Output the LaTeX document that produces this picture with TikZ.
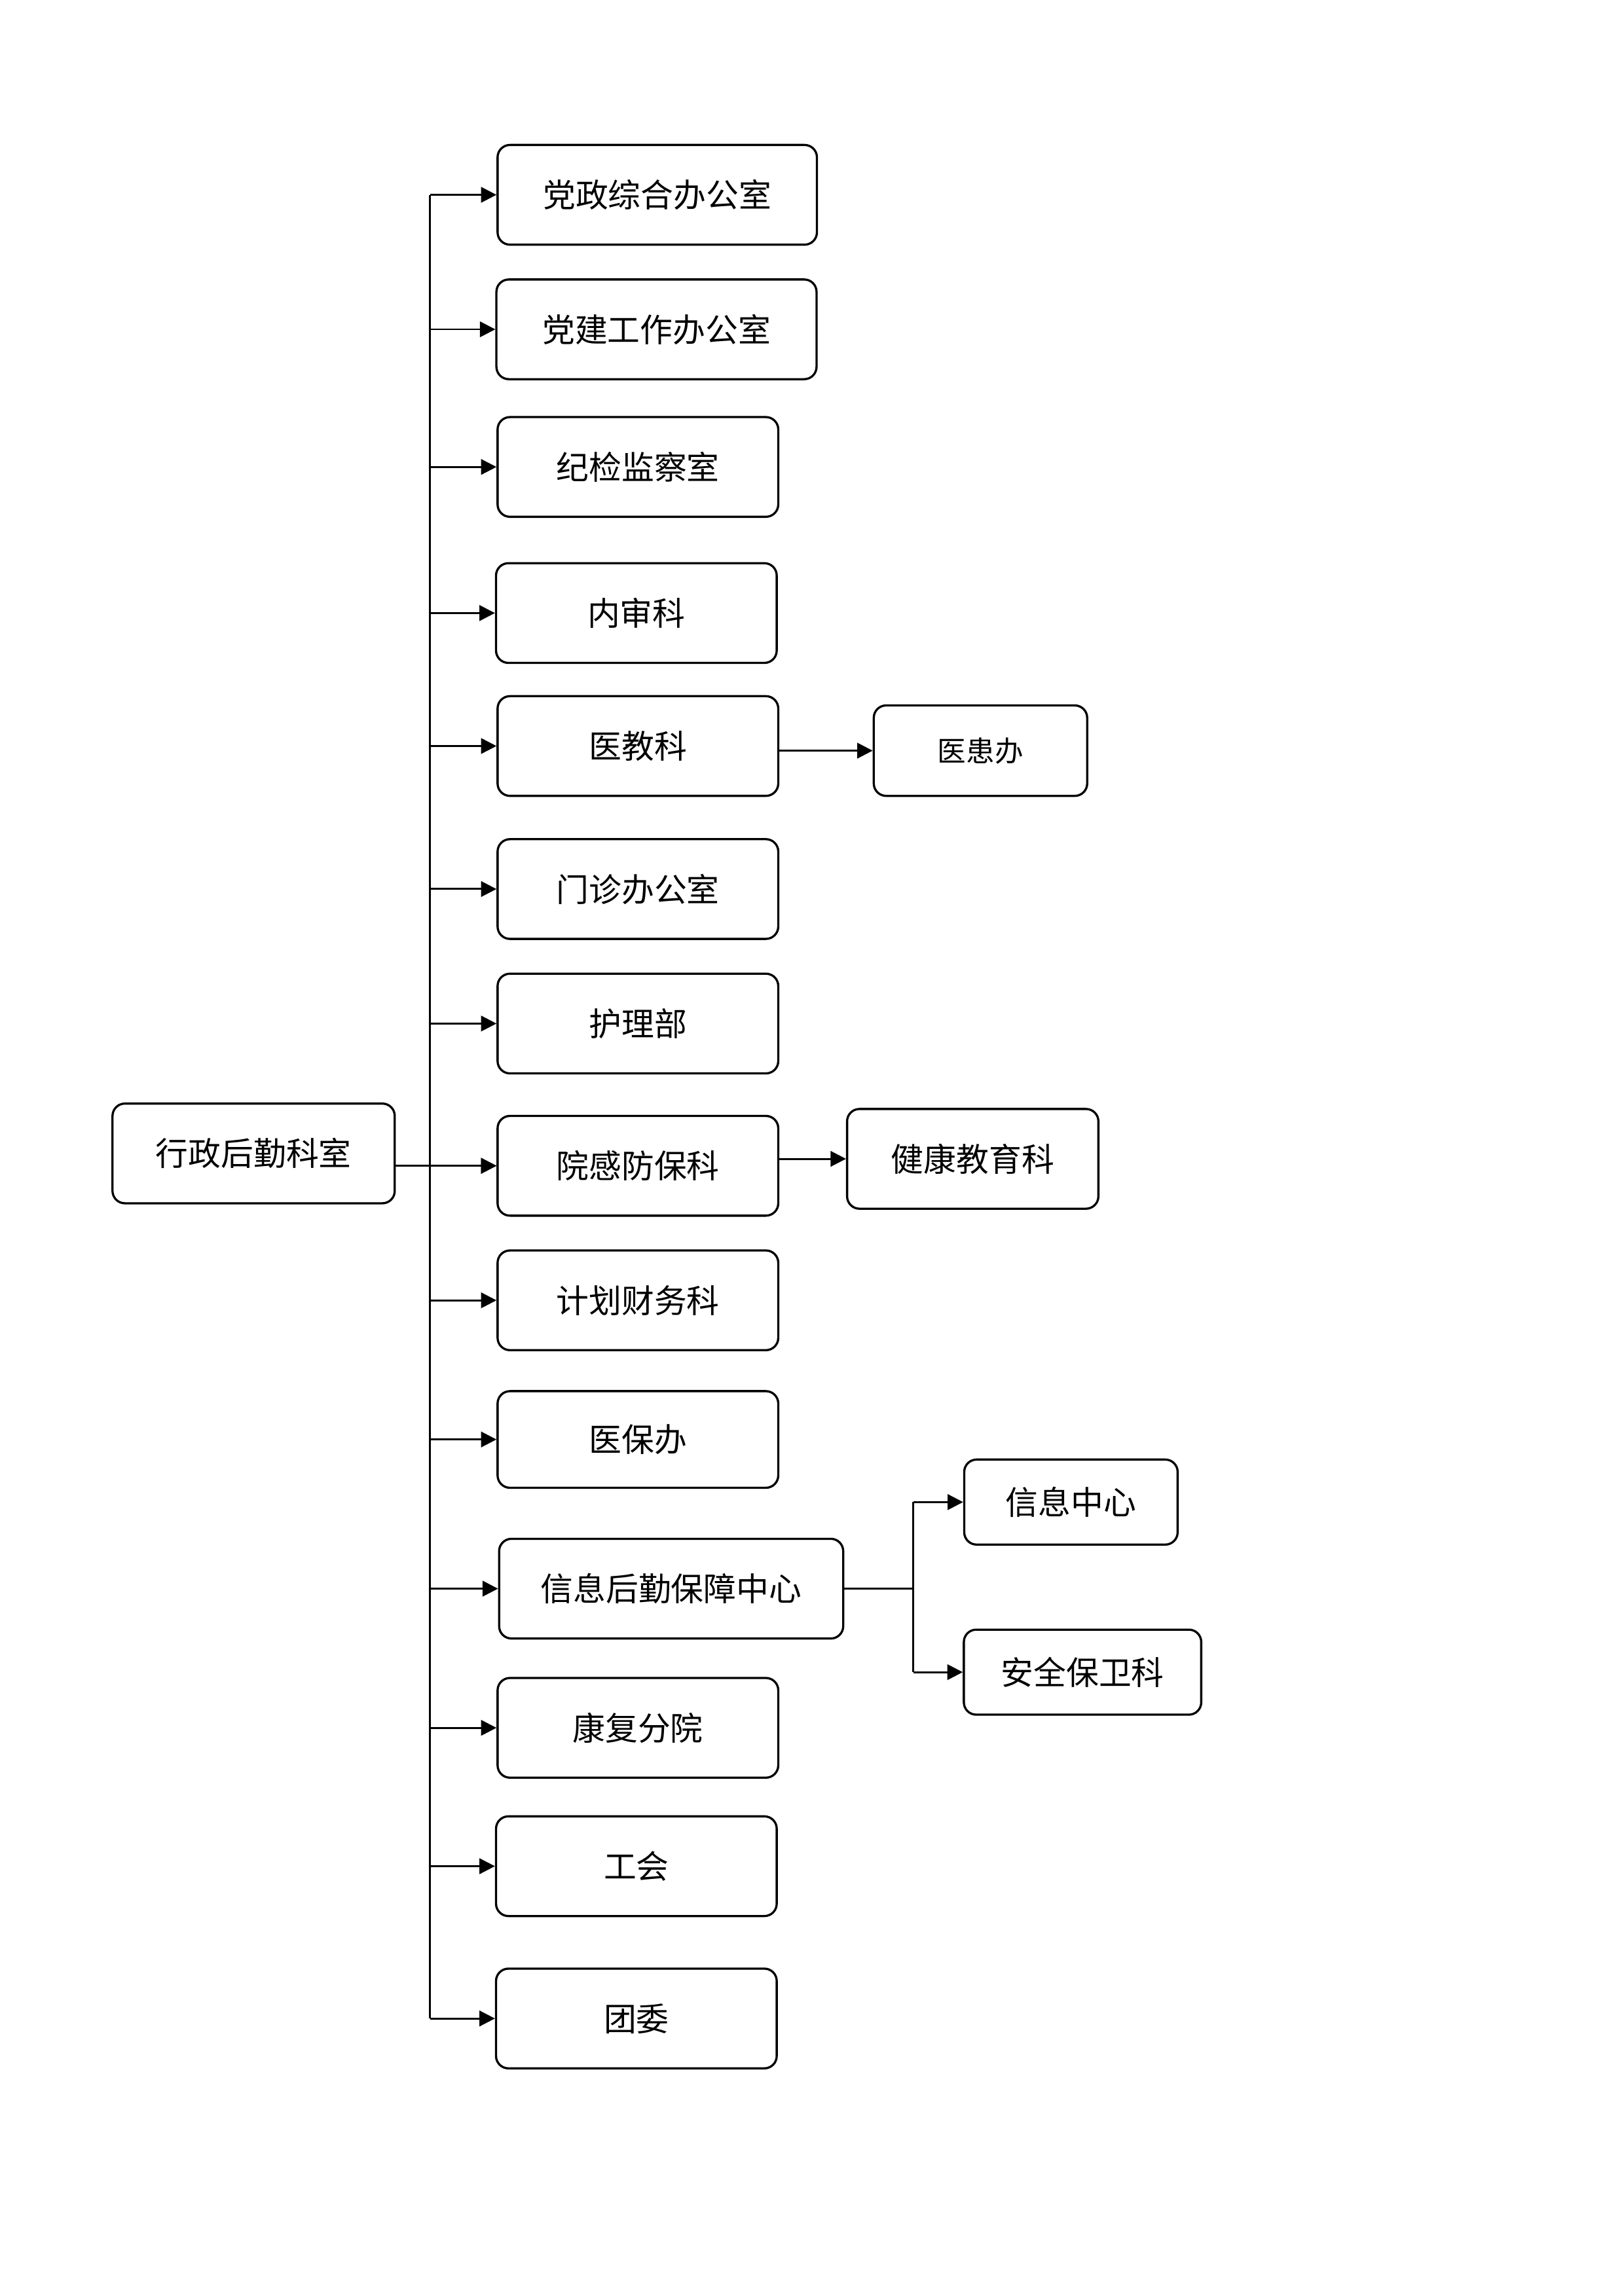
\documentclass[tikz,border=0pt]{standalone}
\usepackage{fontspec}
\setmainfont{Noto Sans CJK SC}
\usetikzlibrary{arrows.meta}
\tikzset{
    unit/.style={draw,line width=0.8pt,rounded corners=0.16cm,
        minimum width=3.63cm,minimum height=1.29cm,inner sep=0pt,
        font=\fontsize{12pt}{14pt}\selectfont},
    arr/.style={line width=0.7pt,-{Triangle[length=2mm,width=2mm]}},
    link/.style={line width=0.7pt}
}
\begin{document}
\begin{tikzpicture}
        \useasboundingbox (0,0) rectangle (21,-29.7);
        %% Root
        \node[unit,minimum width=3.65cm] (root) at (3.28,-14.92) {行政后勤科室};
        %% Offices
        \node[unit,minimum width=4.13cm] (c1) at (8.50,-2.52) {党政综合办公室};
        \node[unit,minimum width=4.14cm] (c2) at (8.49,-4.26) {党建工作办公室};
        \node[unit] (c3) at (8.25,-6.04) {纪检监察室};
        \node[unit] (c4) at (8.23,-7.93) {内审科};
        \node[unit] (c5) at (8.25,-9.65) {医教科};
        \node[unit] (c6) at (8.25,-11.50) {门诊办公室};
        \node[unit] (c7) at (8.25,-13.24) {护理部};
        \node[unit] (c8) at (8.25,-15.08) {院感防保科};
        \node[unit] (c9) at (8.25,-16.82) {计划财务科};
        \node[unit,minimum height=1.25cm] (c10) at (8.25,-18.62) {医保办};
        \node[unit,minimum width=4.45cm] (c11) at (8.68,-20.55) {信息后勤保障中心};
        \node[unit] (c12) at (8.25,-22.35) {康复分院};
        \node[unit] (c13) at (8.23,-24.14) {工会};
        \node[unit] (c14) at (8.23,-26.11) {团委};
        %% Sub-offices
        \node[unit,minimum width=2.76cm,minimum height=1.17cm,
            font=\fontsize{10.5pt}{12pt}\selectfont] (yh) at (12.68,-9.71) {医患办};
        \node[unit,minimum width=3.25cm] (jk) at (12.58,-14.99) {健康教育科};
        \node[unit,minimum width=2.76cm,minimum height=1.10cm] (xx) at (13.85,-19.43) {信息中心};
        \node[unit,minimum width=3.07cm,minimum height=1.10cm] (aq) at (14.00,-21.63) {安全保卫科};
        %% Trunk
        \coordinate (trunk) at (5.56,0);
        \draw[link] (trunk |- c1) -- (trunk |- c14);
        \foreach \n in {1,...,14}
            \draw[arr] (trunk |- c\n) -- (c\n.west);
        \draw[arr] (root.east |- c8) -- (c8.west);
        %% Branches
        \draw[arr] (c5.east |- yh) -- (yh.west);
        \draw[arr] (c8.east |- jk) -- (jk.west);
        \coordinate (fork) at (11.81,0);
        \draw[link] (c11.east) -- (fork |- c11);
        \draw[link] (fork |- xx) -- (fork |- aq);
        \draw[arr] (fork |- xx) -- (xx.west);
        \draw[arr] (fork |- aq) -- (aq.west);
\end{tikzpicture}
\end{document}
